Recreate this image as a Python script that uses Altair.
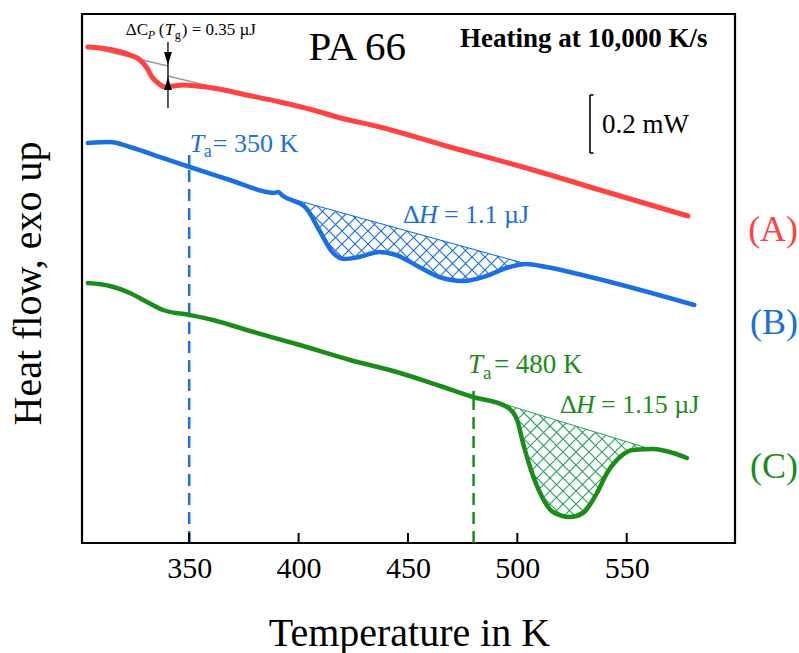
import altair as alt
import pandas as pd
import numpy as np

FONT = "Liberation Serif"
X_DOMAIN = [301, 599.5]
Y_DOMAIN = [0, 529]          # arbitrary heat-flow units (58 units = 0.2 mW)
W, H = 653, 529

RED = "#ff4242"
BLUE = "#1b6fe0"
GREEN = "#1a8c1a"
GREEN_HATCH = "#2aa35f"

# ---- curve (A): red ----
a_T = [303.7, 315.2, 322.9, 327.5, 330.7, 333.0, 335.7, 338.9, 342.5, 347.1, 353.5,
       360.8, 376.4, 391.5, 406.6, 417.5, 437.2, 469.2, 502.6, 537.8, 578.0]
a_v = [496, 493, 488, 483, 475, 466, 460, 456, 457, 458, 457,
       455, 448, 441, 433, 426, 416, 396, 376, 353, 327]
# tangent baselines of the glass step
gu_T = [303.7, 340.3]
gu_v = [496, 477]
gl_T = [340.3, 417.5]
gl_v = [467, 426]

# ---- curve (B): blue ----
b_T = [303.7, 313.8, 322.9, 338.0, 350.3, 368.6, 385.5, 388.7, 390.6, 392.9, 403.4,
       409.4, 415.8, 420.8, 427.7, 436.8, 444.6, 455.1, 464.3, 475.2, 485.8, 494.9,
       504.1, 513.2, 531.5, 580.9]
b_v = [400, 401, 396, 385, 376, 363, 351, 350, 351, 347, 335,
       313, 290, 284, 286, 291, 288, 276, 266, 262, 267, 275,
       279, 276, 267, 238]
bb_T = [393.7, 504.1]
bb_v = [346, 279]

# ---- curve (C): green ----
c_T = [303.7, 313.8, 322.9, 330.7, 338.0, 350.3, 360.9, 377.8, 400.6, 423.5, 446.4,
       464.7, 479.8, 495.3, 499.9, 502.6, 505.8, 510.4, 516.3, 524.1, 530.0, 536.4,
       541.0, 546.9, 552.9, 562.0, 571.2, 577.5]
c_v = [260, 257, 250, 241, 233, 228, 223, 212, 198, 183, 170,
       157, 146, 136, 123, 100, 76, 50, 31, 26, 30, 50,
       70, 86, 93, 94, 90, 85]
cb_T = [495.3, 559.3]
cb_v = [138, 95]

# annealing temperatures
ta_T = [350, 480]
ta_curve_v = [376, 146]
ta_top_v = [388, 152]

tick_values = [350, 400, 450, 500, 550]

# ---- helpers ----
def X(field="T"):
    return alt.X(f"{field}:Q", scale=alt.Scale(domain=X_DOMAIN, nice=False, zero=False),
                 axis=alt.Axis(values=tick_values, ticks=False, domain=False, grid=False,
                               labelFont=FONT, labelFontSize=30, labelColor="black",
                               labelPadding=10, labelFlush=False,
                               title="Temperature in K", titleFont=FONT, titleFontSize=40,
                               titleFontWeight="normal", titleColor="black",
                               titleX=327, titleY=102, titleBaseline="alphabetic"))

def Y(field="v"):
    return alt.Y(f"{field}:Q", scale=alt.Scale(domain=Y_DOMAIN, nice=False, zero=False),
                 axis=alt.Axis(labels=False, ticks=False, domain=False, grid=False,
                               title="Heat flow, exo up", titleFont=FONT, titleFontSize=40,
                               titleFontWeight="normal", titleColor="black",
                               titleAngle=270, titleX=-42, titleY=269,
                               titleBaseline="alphabetic", titleAlign="center"))


def line(Ts, vs, color, width, smooth=False):
    df = pd.DataFrame({"T": Ts, "v": vs})
    kw = dict(color=color, strokeWidth=width, strokeCap="round", strokeJoin="round")
    if smooth:
        kw["interpolate"] = "monotone"
    return alt.Chart(df).mark_line(**kw).encode(x=X(), y=Y())


def hatch_segments(cT, cv, bT, bv, spacing=13.0):
    kx = W / (X_DOMAIN[1] - X_DOMAIN[0])
    ky = H / (Y_DOMAIN[1] - Y_DOMAIN[0])
    t = np.linspace(bT[0], bT[-1], 5000)
    lo = np.interp(t, cT, cv) * ky
    hi = np.interp(t, bT, bv) * ky
    u = (t - X_DOMAIN[0]) * kx
    rows = []
    for s in (1, -1):
        cl = lo - s * u
        ch = hi - s * u
        cmin, cmax = min(cl.min(), ch.min()), max(cl.max(), ch.max())
        c = np.ceil(cmin / spacing) * spacing
        while c <= cmax:
            vl = s * u + c
            inside = (vl >= lo) & (vl <= hi)
            idx = np.flatnonzero(inside)
            if idx.size:
                splits = np.flatnonzero(np.diff(idx) > 1)
                starts = np.r_[idx[0], idx[splits + 1]]
                ends = np.r_[idx[splits], idx[-1]]
                for i0, i1 in zip(starts, ends):
                    if i1 > i0:
                        rows.append({"T": t[i0], "v": vl[i0] / ky,
                                     "T2": t[i1], "v2": vl[i1] / ky})
            c += spacing
    return pd.DataFrame(rows)


def segs(df, color, width):
    return alt.Chart(df).mark_rule(color=color, strokeWidth=width).encode(
        x=X(), y=Y(), x2="T2:Q", y2="v2:Q")


def txt(T, v, label, size, color="black", style="normal", weight="normal",
        dx=0, dy=0, align="left", baseline="alphabetic"):
    df = pd.DataFrame({"T": [T], "v": [v], "label": [label]})
    return alt.Chart(df).mark_text(font=FONT, fontSize=size, color=color,
                                   fontStyle=style, fontWeight=weight, dx=dx, dy=dy,
                                   align=align, baseline=baseline).encode(
        x=X(), y=Y(), text="label:N")


layers = []

# hatch fills
hb = hatch_segments(b_T, b_v, bb_T, bb_v)
hc = hatch_segments(c_T, c_v, cb_T, cb_v)
layers.append(segs(hb, BLUE, 1.1))
layers.append(segs(hc, GREEN_HATCH, 1.1))
layers.append(line(bb_T, bb_v, BLUE, 1.1))
layers.append(line(cb_T, cb_v, GREEN_HATCH, 1.1))

# annealing lines (dashed below curve, short solid tick above)
ta_df = pd.DataFrame({"T": ta_T, "v": [0, 0], "v2": ta_curve_v, "top": ta_top_v,
                      "col": [BLUE, GREEN]})
layers.append(alt.Chart(ta_df).mark_rule(strokeWidth=2.5, strokeDash=[12, 7]).encode(
    x=X(), y=Y(), y2="v2:Q", color=alt.Color("col:N", scale=None)))
layers.append(alt.Chart(ta_df).mark_rule(strokeWidth=2.5).encode(
    x=X(), y=Y("v2"), y2="top:Q", color=alt.Color("col:N", scale=None)))

# grey tangent lines
layers.append(line(gu_T, gu_v, "#9a9a9a", 1.3))
layers.append(line(gl_T, gl_v, "#9a9a9a", 1.3))

# curves
layers.append(line(a_T, a_v, RED, 5, smooth=True))
layers.append(line(b_T, b_v, BLUE, 4.5, smooth=True))
layers.append(line(c_T, c_v, GREEN, 4.5, smooth=True))

# delta Cp arrow
arrow_T = 340.3
arr_df = pd.DataFrame({"T": [arrow_T], "v": [435], "v2": [501]})
layers.append(alt.Chart(arr_df).mark_rule(color="black", strokeWidth=1.3).encode(
    x=X(), y=Y(), y2="v2:Q"))
layers.append(alt.Chart(pd.DataFrame({"T": [arrow_T], "v": [484.5]})).mark_point(
    shape="M-0.6,-1L0.6,-1L0,1Z", size=169, filled=True, color="black", opacity=1).encode(
    x=X(), y=Y()))
layers.append(alt.Chart(pd.DataFrame({"T": [arrow_T], "v": [459.5]})).mark_point(
    shape="M-0.6,1L0.6,1L0,-1Z", size=169, filled=True, color="black", opacity=1).encode(
    x=X(), y=Y()))

# 0.2 mW scale bracket
sb_T = 533.2
sb_df = pd.DataFrame({"T": [sb_T], "v": [390], "v2": [448]})
layers.append(alt.Chart(sb_df).mark_rule(color="black", strokeWidth=1.6).encode(
    x=X(), y=Y(), y2="v2:Q"))
sbh = pd.DataFrame({"T": [sb_T, sb_T], "T2": [sb_T + 1.6, sb_T + 1.6], "v": [390, 448]})
layers.append(alt.Chart(sbh).mark_rule(color="black", strokeWidth=1.6).encode(
    x=X(), x2="T2:Q", y=Y()))

# inward axis ticks
tk = pd.DataFrame({"T": tick_values, "v": [0] * 5, "v2": [10] * 5})
layers.append(alt.Chart(tk).mark_rule(color="black", strokeWidth=2).encode(
    x=X(), y=Y(), y2="v2:Q"))

# ---- texts ----
layers.append(txt(404.5, 483, "PA 66", 41))
layers.append(txt(473.8, 496, "Heating at 10,000 K/s", 27, weight="bold"))
layers.append(txt(538.7, 410, "0.2 mW", 27))

# delta Cp label
dcp_T, dcp_v = 321.0, 508
layers.append(txt(dcp_T, dcp_v, "ΔC", 17))
layers.append(txt(dcp_T, dcp_v, "P", 12, style="italic", dx=22, dy=4))
layers.append(txt(dcp_T, dcp_v, "(", 17, dx=33))
layers.append(txt(dcp_T, dcp_v, "T", 17, style="italic", dx=39))
layers.append(txt(dcp_T, dcp_v, "g", 12, dx=49, dy=4))
layers.append(txt(dcp_T, dcp_v, ") = 0.35 µJ", 17, dx=56))

# blue annotations
layers.append(txt(350.3, 391, "T", 26, color=BLUE, style="italic"))
layers.append(txt(350.3, 391, "a", 18, color=BLUE, dx=14, dy=5))
layers.append(txt(350.3, 391, "= 350 K", 26, color=BLUE, dx=23))
layers.append(txt(447.7, 320, "Δ", 26, color=BLUE))
layers.append(txt(447.7, 320, "H", 26, color=BLUE, style="italic", dx=16))
layers.append(txt(447.7, 320, "= 1.1 µJ", 26, color=BLUE, dx=41))

# green annotations
layers.append(txt(477.4, 170, "T", 27, color=GREEN, style="italic"))
layers.append(txt(477.4, 170, "a", 19, color=GREEN, dx=15, dy=6))
layers.append(txt(477.4, 170, "= 480 K", 27, color=GREEN, dx=26))
layers.append(txt(519.5, 130, "Δ", 26, color=GREEN))
layers.append(txt(519.5, 130, "H", 26, color=GREEN, style="italic", dx=16))
layers.append(txt(519.5, 130, "= 1.15 µJ", 26, color=GREEN, dx=41))

# series labels outside the frame
layers.append(txt(605.5, 313, "(A)", 36, color=RED, baseline="middle"))
layers.append(txt(606.4, 220, "(B)", 36, color=BLUE, baseline="middle"))
layers.append(txt(606.4, 76, "(C)", 36, color=GREEN, baseline="middle"))

chart = alt.layer(*layers).properties(
    width=W, height=H, autosize="none",
    padding={"left": 82, "top": 14, "right": 64, "bottom": 110},
    background="white",
).configure_view(stroke="black", strokeWidth=2.2)

chart.save("out.html", embed_options={"renderer": "svg", "actions": False})
